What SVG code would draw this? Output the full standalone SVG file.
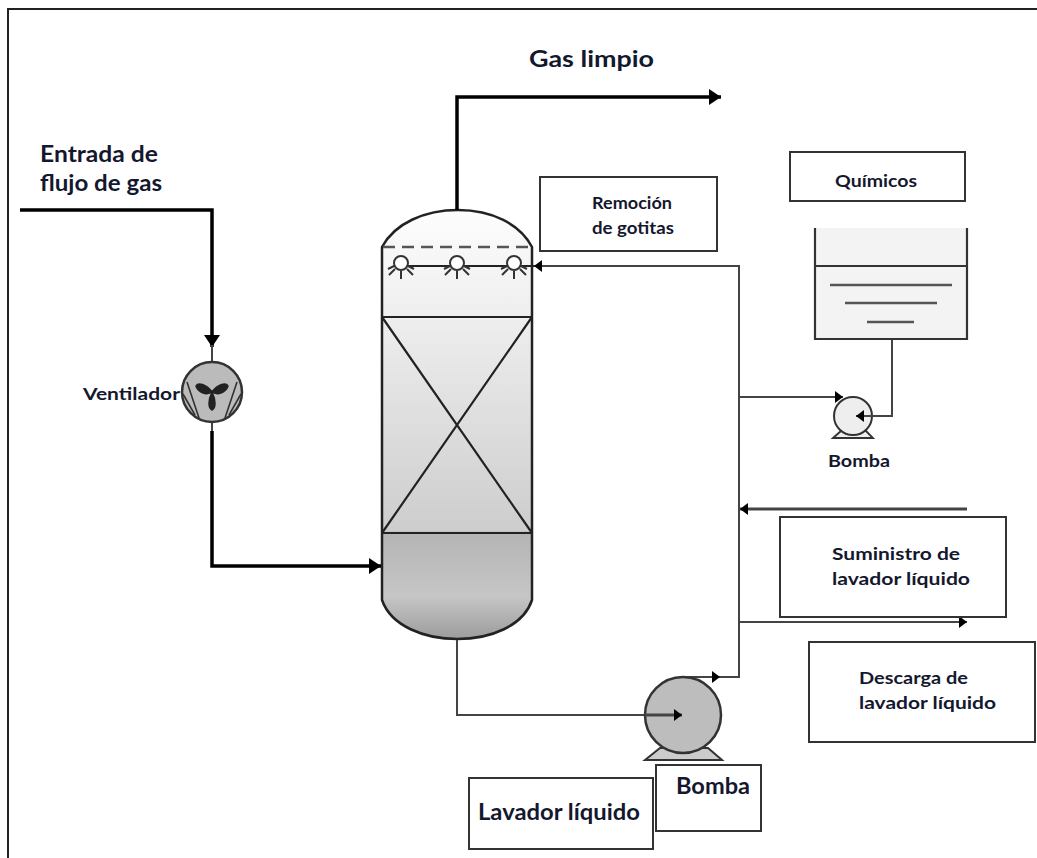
<svg xmlns="http://www.w3.org/2000/svg" width="1037" height="858" viewBox="0 0 1037 858">
<defs>
<linearGradient id="vessel" x1="0" y1="0" x2="0" y2="1"><stop offset="0" stop-color="#fdfdfd"/><stop offset="0.25" stop-color="#eeeeee"/><stop offset="0.749" stop-color="#cdcdcd"/><stop offset="0.75" stop-color="#b4b4b4"/><stop offset="0.9" stop-color="#c6c6c6"/><stop offset="1" stop-color="#9c9c9c"/></linearGradient>
<marker id="big" markerUnits="userSpaceOnUse" markerWidth="14" markerHeight="16" refX="12" refY="8" orient="auto"><path d="M0 0L12 8L0 16Z" fill="#000"/></marker>
<marker id="small" markerUnits="userSpaceOnUse" markerWidth="10" markerHeight="12" refX="8" refY="6" orient="auto"><path d="M0 0L8 6L0 12Z" fill="#000"/></marker>
<g id="sprayhead"><circle r="7" fill="#fff" stroke="#333" stroke-width="2"/><path d="M-13 6L-7 3M-12 12L-6 6M0 8V16M6 6L12 12M7 3L13 6" stroke="#333" stroke-width="2" fill="none"/></g>
</defs>
<style>
.b{fill:#fff;stroke:#333;stroke-width:2}
.t{font-family:Lato,"Liberation Sans",sans-serif;font-weight:700;fill:#14182e}
.thick{fill:none;stroke:#000;stroke-width:3.5}
.thin{fill:none;stroke:#444;stroke-width:2}
</style>
<rect x="0" y="0" width="1037" height="858" fill="#fff"/>
<path d="M8 858V9H1037" fill="none" stroke="#222" stroke-width="2"/>
<g id="vessel-node">
<path d="M382 247C395 223 425 210 458 210C492 210 520 224 532 247V600C515 652 400 652 382 600Z" fill="url(#vessel)" stroke="#222" stroke-width="2.5"/>
<path d="M383 247H532" stroke="#555" stroke-width="2.5" stroke-dasharray="12 7" fill="none"/>
<path d="M382 317H532M382 533H532M382 317L532 533M532 317L382 533" stroke="#222" stroke-width="2.2" fill="none"/>
<path d="M401 266H534" stroke="#222" stroke-width="2.2" fill="none"/>
<use href="#sprayhead" x="401" y="263"/><use href="#sprayhead" x="457" y="263"/><use href="#sprayhead" x="514" y="263"/>
</g>
<g id="connectors">
<path class="thick" d="M20 210H212V347" marker-end="url(#big)"/>
<path d="M212 345V363" class="thin"/>
<path d="M212 421V432" class="thin"/>
<path class="thick" d="M212 431V566H381" marker-end="url(#big)"/>
<path class="thick" d="M457 210V97H721" marker-end="url(#big)"/>
<path class="thin" d="M457 640V715H682" marker-end="url(#small)"/>
<path class="thin" d="M680 677H739V266H534" marker-end="url(#small)"/>
<path class="thin" d="M739 397H843" marker-end="url(#small)"/>
<path class="thin" d="M892 339V416H855" marker-end="url(#small)"/>
<path d="M967 509H740" fill="none" stroke="#444" stroke-width="3" marker-end="url(#small)"/>
<path class="thin" d="M739 622H967" marker-end="url(#small)"/>
</g>
<g id="fan">
<circle cx="212" cy="392" r="30" fill="#bbb" stroke="#333" stroke-width="2.5"/>
<path d="M187 382L199 418M237 382L225 418M183 394L195 415M241 394L229 415" fill="none" stroke="#333" stroke-width="1.6"/>
<path d="M212 392C206 384 198 382 196 386C198 392 206 396 212 392ZM212 392C218 384 226 382 228 386C226 392 218 396 212 392ZM212 392C208 400 208 408 212 410C216 408 216 400 212 392Z" fill="#222" stroke="#222" stroke-width="1.5"/>
</g>
<g id="main-pump">
<path d="M645 760L660 748H708L722 760Z" fill="#ccc" stroke="#333" stroke-width="2"/>
<circle cx="683" cy="715" r="38" fill="#bdbdbd" stroke="#333" stroke-width="2.5"/>
<path d="M645 715H682" stroke="#444" stroke-width="3" marker-end="url(#small)"/>
<path d="M712 671L720 677L712 683Z" fill="#000"/>
</g>
<g id="chem-pump">
<path d="M833 438L841 431H866L873 438Z" fill="#eee" stroke="#333" stroke-width="1.8"/>
<circle cx="853" cy="416" r="19" fill="#eee" stroke="#333" stroke-width="2"/>
<path d="M892 416H856" stroke="#444" stroke-width="2" marker-end="url(#small)"/>
</g>
<g id="tank">
<path d="M815 228V339H967V228" fill="#f3f3f3" stroke="#333" stroke-width="2.2"/>
<path d="M815 266H967" stroke="#333" stroke-width="2"/>
<path d="M830 285H952M845 303H937M867 322H914" stroke="#555" stroke-width="2.5"/>
</g>
<g id="label-gas-limpio"><text class="t" x="529" y="67" font-size="22" textLength="125" lengthAdjust="spacingAndGlyphs">Gas limpio</text></g>
<g id="label-entrada"><text class="t" x="40" y="162" font-size="22" textLength="118" lengthAdjust="spacingAndGlyphs">Entrada de</text><text class="t" x="40" y="191" font-size="22" textLength="122" lengthAdjust="spacingAndGlyphs">flujo de gas</text></g>
<g id="label-ventilador"><text class="t" x="83" y="400" font-size="17" textLength="97" lengthAdjust="spacingAndGlyphs">Ventilador</text></g>
<g id="label-remocion"><rect class="b" x="540" y="177" width="177" height="74"/><text class="t" x="592" y="209" font-size="17" textLength="80" lengthAdjust="spacingAndGlyphs">Remoción</text><text class="t" x="592" y="234" font-size="17" textLength="82" lengthAdjust="spacingAndGlyphs">de gotitas</text></g>
<g id="label-quimicos"><rect class="b" x="790" y="152" width="175" height="49"/><text class="t" x="835" y="187" font-size="17" textLength="82" lengthAdjust="spacingAndGlyphs">Químicos</text></g>
<g id="label-bomba-small"><text class="t" x="828" y="467" font-size="17" textLength="62" lengthAdjust="spacingAndGlyphs">Bomba</text></g>
<g id="label-suministro"><rect class="b" x="780" y="517" width="226" height="100"/><text class="t" x="832" y="560" font-size="17" textLength="128" lengthAdjust="spacingAndGlyphs">Suministro de</text><text class="t" x="832" y="585" font-size="17" textLength="138" lengthAdjust="spacingAndGlyphs">lavador líquido</text></g>
<g id="label-descarga"><rect class="b" x="809" y="642" width="226" height="100"/><text class="t" x="859" y="684" font-size="17" textLength="109" lengthAdjust="spacingAndGlyphs">Descarga de</text><text class="t" x="859" y="709" font-size="17" textLength="137" lengthAdjust="spacingAndGlyphs">lavador líquido</text></g>
<g id="label-bomba"><rect class="b" x="656" y="765" width="105" height="66"/><text class="t" x="676" y="794" font-size="22" textLength="74" lengthAdjust="spacingAndGlyphs">Bomba</text></g>
<g id="label-lavador"><rect class="b" x="469" y="778" width="184" height="71"/><text class="t" x="478" y="820" font-size="22" textLength="162" lengthAdjust="spacingAndGlyphs">Lavador líquido</text></g>
</svg>
